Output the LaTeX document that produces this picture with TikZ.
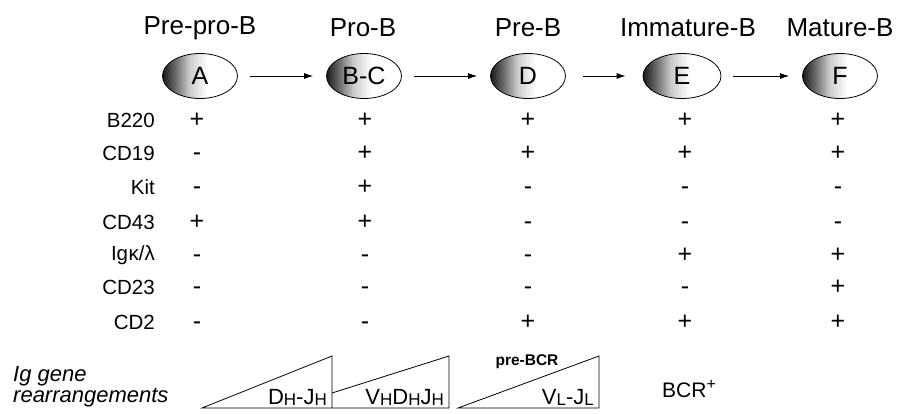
\documentclass[tikz,border=0pt]{standalone}
\usepackage{fontspec}
\setmainfont{Liberation Sans}
\usetikzlibrary{arrows.meta,shapes.geometric}
\pgfdeclarehorizontalshading{cellshade}{100bp}{color(0bp)=(black);color(25bp)=(black!90);color(33bp)=(black!60);color(43bp)=(black!20);color(55bp)=(white);color(100bp)=(white)}
\tikzset{
  cell/.style={ellipse,draw=black,line width=0.8pt,shading=cellshade,minimum width=75pt,minimum height=45pt,inner sep=0pt,font=\fontsize{25}{25}\selectfont},
  stage/.style={font=\fontsize{26}{26}\selectfont,inner sep=0pt},
  arr/.style={-{Latex[length=9pt,width=6pt]},line width=0.8pt,shorten <=12pt,shorten >=13pt},
  rowlab/.style={anchor=east,font=\fontsize{20.5}{21}\selectfont,inner sep=0pt},
  sign/.style={font=\fontsize{25}{25}\selectfont,inner sep=0pt,text height=15.5pt,text depth=0pt},
  box/.style={line width=0.8pt,line join=miter},
  gene/.style={font=\fontsize{22}{22}\selectfont,inner sep=0pt},
}
\newcommand{\sbH}[1]{\raisebox{-1.5pt}{\fontsize{17}{17}\selectfont #1}}
\begin{document}
\begin{tikzpicture}[x=1pt,y=-1pt]
\useasboundingbox (0,0) rectangle (899,413);
% stage labels
\node[stage] (lA) at (200,28) {Pre-pro-B};
\node[stage] (lB) at (363,28) {Pro-B};
\node[stage] (lD) at (528,28) {Pre-B};
\node[stage] (lE) at (688,28) {Immature-B};
\node[stage] (lF) at (840,28) {Mature-B};
% cells
\node[cell] (A) at (200,76) {A};
\node[cell] (BC) at (364,76) {B-C};
\node[cell] (D) at (528,76) {D};
\node[cell,minimum width=78pt] (E) at (682,76) {E};
\node[cell] (F) at (840,76) {F};
\draw[arr] (A) -- (BC);
\draw[arr] (BC) -- (D);
\draw[arr,shorten <=17pt,shorten >=17pt] (D) -- (E);
\draw[arr] (E) -- (F);
% row labels
\node[rowlab] (r1) at (155,120) {B220};
\node[rowlab] (r2) at (155,153) {CD19};
\node[rowlab] (r3) at (155,187) {Kit};
\node[rowlab] (r4) at (155,222) {CD43};
\node[rowlab] (r5) at (155,255) {Ig\kern0.5pt κ/λ};
\node[rowlab] (r6) at (155,287) {CD23};
\node[rowlab] (r7) at (155,322) {CD2};
% column A
\node[sign] (a1) at (197,120) {+};
\node[sign] (a2) at (197,153) {-};
\node[sign] (a3) at (197,187) {-};
\node[sign] (a4) at (197,222) {+};
\node[sign] (a5) at (197,255) {-};
\node[sign] (a6) at (197,287) {-};
\node[sign] (a7) at (197,322) {-};
% column BC
\node[sign] (b1) at (365,120) {+};
\node[sign] (b2) at (365,153) {+};
\node[sign] (b3) at (365,187) {+};
\node[sign] (b4) at (365,222) {+};
\node[sign] (b5) at (365,255) {-};
\node[sign] (b6) at (365,287) {-};
\node[sign] (b7) at (365,322) {-};
% column D
\node[sign] (d1) at (528,120) {+};
\node[sign] (d2) at (528,153) {+};
\node[sign] (d3) at (528,187) {-};
\node[sign] (d4) at (528,222) {-};
\node[sign] (d5) at (528,255) {-};
\node[sign] (d6) at (528,287) {-};
\node[sign] (d7) at (528,322) {+};
% column E
\node[sign] (e1) at (685,120) {+};
\node[sign] (e2) at (685,153) {+};
\node[sign] (e3) at (685,187) {-};
\node[sign] (e4) at (685,222) {-};
\node[sign] (e5) at (685,255) {+};
\node[sign] (e6) at (685,287) {-};
\node[sign] (e7) at (685,322) {+};
% column F
\node[sign] (f1) at (838,120) {+};
\node[sign] (f2) at (838,153) {+};
\node[sign] (f3) at (838,187) {-};
\node[sign] (f4) at (838,222) {-};
\node[sign] (f5) at (838,255) {+};
\node[sign] (f6) at (838,287) {+};
\node[sign] (f7) at (838,322) {+};
% Ig gene rearrangements
\node[gene,anchor=west] (ig1) at (13,376) {\itshape Ig gene};
\node[gene,anchor=west] (ig2) at (13,398) {\itshape rearrangements};
\draw[box] (202,408) -- (332,356) -- (332,408) -- cycle;
\draw[box] (332,393) -- (449,356) -- (449,408) -- (332,408);
\draw[box] (458,408) -- (599,356) -- (599,408) -- cycle;
\node[gene,anchor=base east] (t1) at (327,404) {D\sbH{H}-J\sbH{H}};
\node[gene,anchor=base east] (t2) at (444,404) {V\sbH{H}D\sbH{H}J\sbH{H}};
\node[gene,anchor=base east] (t3) at (594,404) {V\sbH{L}-J\sbH{L}};
\node[font=\bfseries\fontsize{15.5}{16}\selectfont,inner sep=0pt] (pre) at (527,362) {pre-BCR};
\node[font=\fontsize{21}{21}\selectfont,inner sep=0pt,anchor=base west] (bcr) at (662,397) {BCR\raisebox{8pt}{\fontsize{16}{16}\selectfont +}};
\end{tikzpicture}
\end{document}
